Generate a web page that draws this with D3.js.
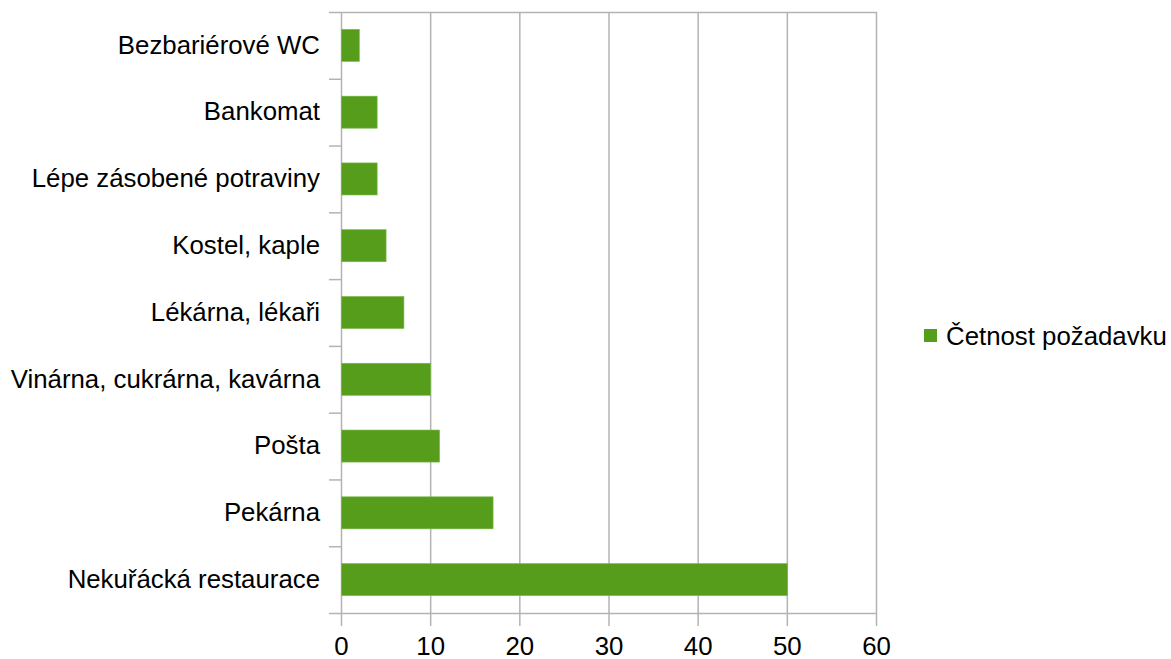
<!DOCTYPE html>
<html>
<head>
<meta charset="utf-8">
<script src="https://cdn.jsdelivr.net/npm/d3@7"></script>
<style>
  body { margin: 0; background: #fff; }
  svg { display: block; }
</style>
</head>
<body>
<svg id="chart"></svg>
<script>
// categories, top to bottom
const categories = [
  'Bezbariérové WC',
  'Bankomat',
  'Lépe zásobené potraviny',
  'Kostel, kaple',
  'Lékárna, lékaři',
  'Vinárna, cukrárna, kavárna',
  'Pošta',
  'Pekárna',
  'Nekuřácká restaurace'
];
const values = [2, 4, 4, 5, 7, 10, 11, 17, 50];
const xTicks = [0, 10, 20, 30, 40, 50, 60];
const seriesName = 'Četnost požadavku';

const width = 1171;
const height = 659;
const fontSize = 25.8;
const gridColor = '#b3b3b3';
const barColor = '#579d1c';

const svg = d3.select('#chart')
  .attr('width', width)
  .attr('height', height)
  .attr('font-family', '"Liberation Sans", Arial, sans-serif')
  .attr('font-size', fontSize);

const x = d3.scaleLinear().domain([0, 60]).range([341, 876]);
const y = d3.scaleBand().domain(categories).range([12, 613]).padding(0);

const data = categories.map((c, i) => ({ cat: c, value: values[i] }));

// vertical grid lines (also run down as tick marks)
svg.append('g')
  .attr('class', 'grid')
  .selectAll('line')
  .data(xTicks)
  .join('line')
  .attr('x1', (d) => x(d) + 0.5)
  .attr('x2', (d) => x(d) + 0.5)
  .attr('y1', 12)
  .attr('y2', 626)
  .attr('stroke', gridColor)
  .attr('stroke-width', 1.5);

// horizontal frame lines top & bottom
svg.append('g')
  .selectAll('line')
  .data([12, 613])
  .join('line')
  .attr('x1', 329)
  .attr('x2', x(60) + 1)
  .attr('y1', (d) => d + 0.5)
  .attr('y2', (d) => d + 0.5)
  .attr('stroke', gridColor)
  .attr('stroke-width', 1.5);

// category boundary ticks on y axis
svg.append('g')
  .selectAll('line')
  .data(categories.slice(1))
  .join('line')
  .attr('x1', 329)
  .attr('x2', 341)
  .attr('y1', (d) => y(d) + 0.5)
  .attr('y2', (d) => y(d) + 0.5)
  .attr('stroke', gridColor)
  .attr('stroke-width', 1.5);

// bars
const barH = y.bandwidth() * 0.48;
svg.append('g')
  .selectAll('rect')
  .data(data)
  .join('rect')
  .attr('x', x(0) + 0.5)
  .attr('y', (d) => y(d.cat) + (y.bandwidth() - barH) / 2)
  .attr('width', (d) => x(d.value) - x(0))
  .attr('height', barH)
  .attr('fill', barColor)
  .attr('stroke', '#7ab84a')
  .attr('stroke-width', 0.6);

// x axis labels
const xAxis = d3.axisBottom(x).tickValues(xTicks).tickSize(0).tickPadding(24);
svg.append('g')
  .attr('transform', 'translate(0,613)')
  .call(xAxis)
  .call((g) => g.select('.domain').remove())
  .call((g) => g.selectAll('text')
    .attr('font-size', fontSize)
    .attr('font-family', '"Liberation Sans", Arial, sans-serif')
    .attr('fill', '#000'));

// y axis labels
const yAxis = d3.axisLeft(y).tickSize(0).tickPadding(21);
svg.append('g')
  .attr('transform', 'translate(341,0)')
  .call(yAxis)
  .call((g) => g.select('.domain').remove())
  .call((g) => g.selectAll('text')
    .attr('font-size', fontSize)
    .attr('font-family', '"Liberation Sans", Arial, sans-serif')
    .attr('fill', '#000'));

// legend
const legend = svg.append('g').attr('transform', 'translate(924,329)');
legend.append('rect')
  .attr('width', 13)
  .attr('height', 13)
  .attr('fill', barColor);
legend.append('text')
  .attr('x', 22)
  .attr('y', 7)
  .attr('dy', '0.35em')
  .attr('fill', '#000')
  .text(seriesName);
</script>
</body>
</html>
